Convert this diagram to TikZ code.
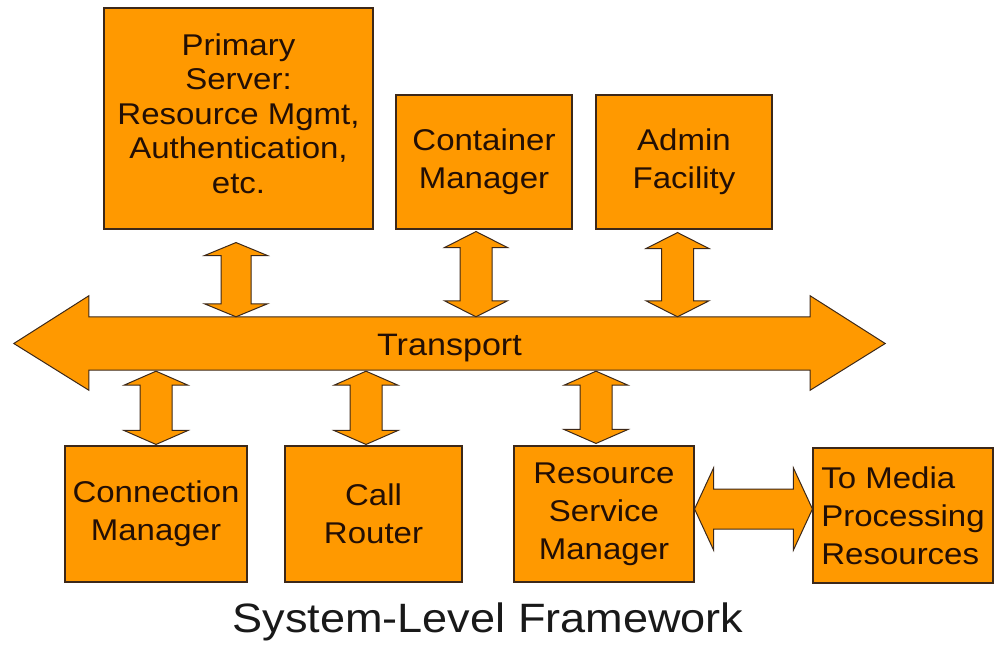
\documentclass[tikz,border=0pt]{standalone}
\usepackage{fontspec}
\setmainfont[FakeStretch=1.1]{Liberation Sans}
\usetikzlibrary{calc}
\definecolor{boxfill}{RGB}{255,153,0}
\definecolor{boxline}{RGB}{60,40,25}
\definecolor{txt}{RGB}{35,15,5}
\definecolor{titletxt}{RGB}{25,25,25}
\tikzset{
  box/.style={draw=boxline, fill=boxfill, line width=1.1bp, inner sep=0pt, align=center,
    text=txt, font=\fontsize{30bp}{38bp}\selectfont},
  blockarrow/.style={draw=boxline, fill=boxfill, line width=1bp, line join=miter},
}
% fat double arrow between two named coordinates:
% #1,#2 ends, #3 head length, #4 shaft half width, #5 head half width
\newcommand\dblarrow[5]{%
  \coordinate (da1) at ($(#1)!#3!(#2)$);
  \coordinate (da2) at ($(#2)!#3!(#1)$);
  \draw[blockarrow] (#1) -- ($(da1)!#5!90:(#2)$) -- ($(da1)!#4!90:(#2)$)
    -- ($(da2)!#4!-90:(#1)$) -- ($(da2)!#5!-90:(#1)$) -- (#2)
    -- ($(da2)!#5!90:(#1)$) -- ($(da2)!#4!90:(#1)$)
    -- ($(da1)!#4!-90:(#2)$) -- ($(da1)!#5!-90:(#2)$) -- cycle;}
\begin{document}
\begin{tikzpicture}[x=1bp,y=-1bp]
\useasboundingbox (0,0) rectangle (994,645);
% top boxes
\node[box, minimum width=269bp, minimum height=221bp, font=\fontsize{30bp}{34.5bp}\selectfont]
  (ps) at (238.5,118.5) {Primary\\Server:\\Resource Mgmt,\\Authentication,\\etc.\\[-24bp]\mbox{}};
\node[box, minimum width=176bp, minimum height=134bp] (cm) at (484,162) {Container\\Manager};
\node[box, minimum width=176bp, minimum height=134bp] (af) at (684,162) {Admin\\Facility};
% bottom boxes
\node[box, minimum width=182bp, minimum height=136bp] (conn) at (156,514) {Connection\\Manager};
\node[box, minimum width=177bp, minimum height=136bp] (cr) at (373.5,514) {Call\\Router};
\node[box, minimum width=180bp, minimum height=136bp] (rsm) at (604,514) {Resource\\Service\\Manager};
\node[box, minimum width=180bp, minimum height=135bp, align=left] (media) at (903,515.5)
  {To Media\\Processing\\Resources};
% transport bus
\node[minimum width=721bp, minimum height=53bp, inner sep=0pt] (tr) at (449.5,343.5) {};
\draw[blockarrow] (tr.north west) -- (tr.north east) -- ++(0,-21)
  -- ($(tr.east)+(75,0)$) -- ($(tr.south east)+(0,20)$) -- (tr.south east)
  -- (tr.south west) -- ++(0,20) -- ($(tr.west)+(-75,0)$)
  -- ($(tr.north west)+(0,-21)$) -- cycle;
\node[anchor=base, text=txt, font=\fontsize{31bp}{31bp}\selectfont, inner sep=0pt]
  (trlabel) at ($(tr.center)+(0,11.5)$) {Transport};
% connector end points
\coordinate (psA) at ($(ps.south)+(-2.5,13)$);
\coordinate (psB) at ($(ps.south |- tr.north)+(-2.5,0)$);
\coordinate (cmA) at ($(cm.south)+(-8,2)$);
\coordinate (cmB) at ($(cm.south |- tr.north)+(-8,0)$);
\coordinate (afA) at ($(af.south)+(-6.5,3)$);
\coordinate (afB) at ($(af.south |- tr.north)+(-6.5,0)$);
\coordinate (connA) at ($(conn.north |- tr.south)+(0,1)$);
\coordinate (connB) at ($(conn.north)+(0,-1)$);
\coordinate (crA) at ($(cr.north |- tr.south)+(-7.5,1)$);
\coordinate (crB) at ($(cr.north)+(-7.5,-1)$);
\coordinate (rsmA) at ($(rsm.north |- tr.south)+(-8,1)$);
\coordinate (rsmB) at ($(rsm.north)+(-8,-2)$);
\coordinate (rmA) at ($(rsm.east)+(0,-5)$);
\coordinate (rmB) at ($(media.west |- rmA)$);
% connectors
\dblarrow{psA}{psB}{13bp}{15bp}{31.5bp}
\dblarrow{cmA}{cmB}{16bp}{16bp}{31.5bp}
\dblarrow{afA}{afB}{16bp}{16bp}{31.5bp}
\dblarrow{connA}{connB}{14bp}{16bp}{32bp}
\dblarrow{crA}{crB}{14bp}{16bp}{32bp}
\dblarrow{rsmA}{rsmB}{14bp}{16bp}{32bp}
\dblarrow{rmA}{rmB}{19bp}{20bp}{41bp}
% title
\node[anchor=base, text=titletxt, font=\fontsize{41bp}{41bp}\selectfont, inner sep=0pt]
  (title) at (488,632) {System-Level Framework};
\end{tikzpicture}
\end{document}
